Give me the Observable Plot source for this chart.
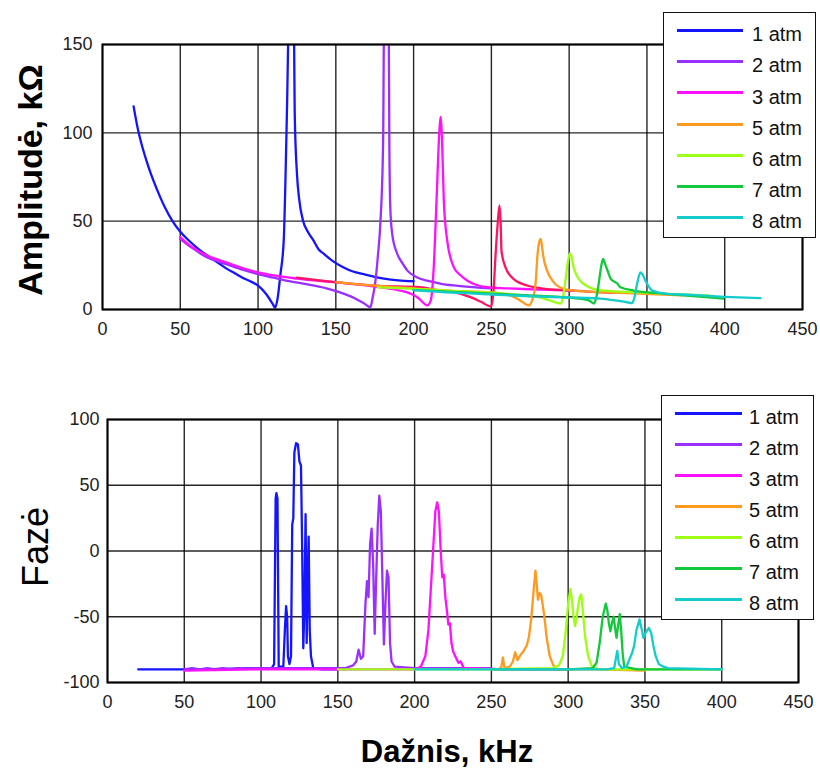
<!DOCTYPE html>
<html><head><meta charset="utf-8">
<script src="https://cdn.jsdelivr.net/npm/d3@7"></script>
<script src="https://cdn.jsdelivr.net/npm/@observablehq/plot@0.6"></script>
<style>
body{margin:0;background:#fff;font-family:"Liberation Sans",Arial,sans-serif;}
#wrap{position:relative;width:820px;height:772px;overflow:hidden;background:#fff;}
.p{position:absolute;left:0;}
.lab{position:absolute;white-space:nowrap;text-align:center;color:#000;font-family:"Liberation Sans",Arial,sans-serif;}
.leg{position:absolute;border:1.5px solid #111;background:#fff;box-sizing:border-box;z-index:5;}
.leg .ln{position:absolute;height:3px;}
.leg .tx{position:absolute;font-size:20px;line-height:20px;color:#111;white-space:nowrap;}
</style></head><body><div id="wrap"></div>
<script>
const xTicks = [0, 50, 100, 150, 200, 250, 300, 350, 400, 450];
const ampTicks = [0, 50, 100, 150];
const phaseTicks = [-100, -50, 0, 50, 100];

const seriesNames = ["1 atm", "2 atm", "3 atm", "4 atm", "5 atm", "6 atm", "7 atm", "8 atm"];
const seriesColors = ["#1414ff", "#9a30ff", "#ff10ff", "#ff1464", "#ff9a20", "#9cff14", "#14c83c", "#14cccc"];
const legendNames = ["1 atm", "2 atm", "3 atm", "5 atm", "6 atm", "7 atm", "8 atm"];

// Amplitude, kOhm  [frequency kHz, amplitude]
const amp1 = [[20,115],[21,110],[23,101],[25,94],[28,85],[31,77],[35,68],[40,58],[45,50],[50,44],[55,39.5],[60,35.5],[65,32],[70,29],[75,26],[80,23],[85,20.5],[90,18],[95,16],[100,13.5],[104,10],[107,6.5],[109.5,3],[111,1],[112.5,6],[114.4,20],[116.5,39],[117.6,73],[118.7,118],[119.7,160],[123,160],[123.6,110],[125,77],[126.5,62],[129,50],[132,44],[135.7,39],[139,34],[142,31.7],[147.6,27.7],[155,23.8],[161,21.5],[168,20],[175,18.5],[181,17.5],[190,16.5],[200,16]];
const amp2 = [[50,40],[55,36.5],[60,33.5],[65,30.5],[70,28.5],[75,27],[80,25.5],[90,22.5],[100,20],[110,18],[120,16],[130,14.5],[144,12],[155,9],[163,6],[168,3.5],[172.3,1.3],[173.5,6],[175.5,16.4],[177,30],[178.7,50],[180.4,95],[181,160],[184,160],[184.4,95],[185,58],[186.2,43],[189.4,31.7],[193,26],[196,22],[202,18.3],[210,16],[217,14.7],[226,13.6],[240,12.5],[249,12]];
const amp3 = [[50,41],[55,37],[60,34],[65,31.5],[70,29.5],[75,28],[80,26.5],[90,23.5],[100,21],[110,19.3],[125,17.5],[150,15.3],[175,13],[190,11],[198,9],[203,6.5],[206,4],[208.7,2.3],[211,5],[213,25],[214.7,61],[216.5,100],[217.3,109],[218.3,95],[219.4,62],[221.6,39],[225.8,24],[230,19.5],[234.4,16.4],[240,14],[247.3,12.6],[260,12],[280,11.3],[300,10.7],[305,10.5]];
const amp4 = [[125,18],[150,15.5],[175,13.5],[204,12.6],[215,11],[225.8,9.8],[236.6,7],[243,4.5],[249.8,1.7],[251.5,12],[252.6,29.6],[254,48],[255.2,58.9],[256,48],[256.5,33],[259,24],[264,17.5],[273,13.6],[282,12],[300,10.8],[315,10],[330,9.5]];
const amp5 = [[150,15.5],[175,13.5],[200,12],[225,10.5],[247,9.8],[262,8],[268.7,5],[274,2.3],[276.5,6],[278.4,14.7],[279.7,31.5],[281,39],[281.6,40],[282.5,36],[283.3,30.5],[285.8,22],[290,15.5],[296.4,11.7],[305,10.5],[320,9.8],[340,9.2],[373,8]];
const amp6 = [[177,12.5],[200,11.7],[225,10.5],[250,9.5],[270,8],[280,7],[288,5],[294.4,3.4],[296,7],[297.6,16.4],[299,26],[300.4,31.7],[301.5,30],[302.8,24],[307,16.4],[315.6,11.7],[325,10.5],[340,9.8],[360,9],[390,8]];
const amp7 = [[200,11],[225,10],[250,9],[275,8],[295,7],[308,6],[313,5],[315.8,3.4],[317.5,7],[319,14.7],[320.5,24],[321.8,28.7],[323,26],[325.5,20],[326.6,17.5],[330.9,14.7],[333,12.6],[341.5,10.7],[360,9],[373.5,8],[399,6.2]];
const amp8 = [[200,11],[225,9.5],[250,8.5],[275,7.5],[300,6.8],[320,6.2],[330.9,5],[337.3,4.1],[340.5,3.6],[342,7],[343.7,14.7],[345.8,21],[347,20],[349,16.4],[353.4,10.7],[363,8.9],[373.5,8.5],[400,7.2],[423,6.4]];

// Phase, degrees  [frequency kHz, phase]
const phase1 = [[20,-90],[60,-90],[100,-89],[107,-89],[108.5,-86],[109.5,40],[110,44],[110.7,40],[111.5,-88],[114.5,-88],[115.5,-60],[116.3,-42],[117,-50],[117.5,-80],[118.5,-86],[119.5,-80],[120.3,20],[121,25],[121.7,75],[122.8,82],[124,81],[125,68],[126,65],[126.8,0],[127.5,-74],[128.3,-40],[129,28],[129.7,-70],[130.3,-30],[131,11],[131.7,-60],[132.5,-80],[134,-89],[140,-90],[150,-90]];
const phase2 = [[50,-90],[55,-89],[60,-90],[65,-89],[70,-90],[75,-89],[80,-90],[85,-89],[90,-89.5],[100,-89],[130,-89],[155,-89],[160,-87],[162,-84],[163.5,-75],[165,-82],[166.5,-80],[168,-40],[169,-23],[170,-35],[171,5],[172,17],[173,-10],[174,-63],[175,-20],[176,20],[177,42],[178,30],[179,-20],[180,-71],[181,-40],[182,-15],[183,-20],[184,-70],[185,-84],[187,-88],[200,-89],[250,-89]];
const phase3 = [[50,-91],[100,-90],[150,-90],[200,-90],[204,-88],[207,-80],[209,-60],[210,-40],[212,0],[213.5,30],[214.7,37],[215.8,30],[217,0],[218,-20],[219,-18],[220,-35],[221,-45],[222,-56],[223,-55],[224,-70],[225,-76],[226.5,-80],[228.5,-85],[230,-84],[232,-89],[260,-90],[300,-90]];
const phase5 = [[255,-90],[256.5,-88],[257.5,-81],[258.5,-89],[262,-88],[264,-84],[265.5,-77],[267,-83],[269,-79],[271,-76],[273,-72],[274.5,-65],[276,-51],[277.5,-30],[278.7,-15],[279.5,-25],[280.3,-37],[281.3,-32],[282.3,-33],[283.3,-40],[284.5,-50],[286,-66],[288,-80],[290,-86],[292,-90],[320,-90],[350,-91]];
const phase6 = [[150,-90],[200,-90],[250,-90],[290,-89],[294,-87],[296.5,-80],[298.5,-60],[300,-40],[301.5,-29],[302.5,-38],[303.5,-50],[304.5,-57],[305.5,-50],[306.5,-42],[307.5,-35],[308.5,-33],[309.5,-45],[311,-65],[313,-80],[315.5,-88],[320,-90],[400,-90]];
const phase7 = [[250,-90],[300,-90],[316,-89],[318.5,-85],[320.5,-70],[322.5,-50],[324.5,-40],[325.5,-45],[326.5,-55],[327.5,-61],[328.5,-55],[329.6,-50],[330.5,-58],[331.5,-66],[332.5,-57],[333.6,-48],[334.5,-60],[335.5,-78],[336.5,-88],[345,-90],[400,-90]];
const phase8 = [[200,-90],[300,-90],[325,-90],[330,-89],[331,-82],[332,-76],[333,-86],[335,-89],[338,-88],[340,-82],[341.5,-78],[343,-72],[344.5,-60],[346.5,-52],[348,-60],[349,-66],[350.5,-62],[352.5,-58.5],[354,-62],[355.5,-72],[357,-80],[359,-86],[362,-88],[365,-89],[400,-90]];

const ampSeries = [amp1, amp2, amp3, amp4, amp5, amp6, amp7, amp8].map((d, i) => ({data: d, color: seriesColors[i]}));
const phaseSeries = [[phase1,0],[phase2,1],[phase3,2],[phase5,4],[phase6,5],[phase7,6],[phase8,7]].map(([d, i]) => ({data: d, color: seriesColors[i]}));

const wrap = document.getElementById("wrap");

function makePlot(o) {
  return Plot.plot({
    width: 820, height: o.height,
    marginTop: o.mt, marginBottom: o.mb, marginLeft: o.ml, marginRight: o.mr,
    style: {fontSize: "18px", fontFamily: "Liberation Sans, Arial, sans-serif", color: "#222", background: "transparent", overflow: "visible"},
    x: {domain: [0, 450]},
    y: {domain: o.yDomain},
    marks: [
      Plot.gridX(xTicks, {stroke: "#000", strokeOpacity: 0.85, strokeWidth: 1.4}),
      Plot.gridY(o.yTicks, {stroke: "#000", strokeOpacity: 0.85, strokeWidth: 1.4}),
      ...o.series.map(s => Plot.line(s.data, {x: d => d[0], y: d => d[1], stroke: s.color, strokeWidth: 2.3, curve: o.curve, clip: true})),
      Plot.frame({stroke: "#000", strokeWidth: 2}),
      Plot.axisX(xTicks, {tickSize: 0, tickPadding: 13, label: null, tickFormat: d => String(d)}),
      Plot.axisY(o.yTicks, {tickSize: 0, tickPadding: o.padY, label: null, tickFormat: d => String(d)})
    ]
  });
}

const top1 = makePlot({height: 350, mt: 44, mb: 41, ml: 102, mr: 18, yDomain: [0, 150], yTicks: ampTicks, series: ampSeries, padY: 10, curve: "monotone-x"});
top1.classList.add("p"); top1.style.top = "0px";
wrap.appendChild(top1);

const bot = makePlot({height: 345, mt: 39, mb: 43, ml: 107, mr: 22, yDomain: [-100, 100], yTicks: phaseTicks, series: phaseSeries, padY: 8, curve: "linear"});
bot.classList.add("p"); bot.style.top = "380px";
wrap.appendChild(bot);

function legend(left, top, w, h, lineY0, step, lineX0, lineX1, textX) {
  const box = document.createElement("div");
  box.className = "leg";
  Object.assign(box.style, {left: left + "px", top: top + "px", width: w + "px", height: h + "px"});
  legendNames.forEach((name, i) => {
    const color = seriesColors[seriesNames.indexOf(name)];
    const y = lineY0 + i * step;
    const ln = document.createElement("div");
    ln.className = "ln";
    Object.assign(ln.style, {left: lineX0 + "px", width: (lineX1 - lineX0) + "px", top: (y - 1.5) + "px", background: color});
    box.appendChild(ln);
    const tx = document.createElement("div");
    tx.className = "tx";
    tx.textContent = name;
    Object.assign(tx.style, {left: textX + "px", top: (y + 3.5 - 9.8) + "px"});
    box.appendChild(tx);
  });
  wrap.appendChild(box);
}
legend(663, 12, 153, 226, 17.5, 31.2, 13, 79, 88);
legend(661, 395, 153, 225, 17, 31.1, 13, 80, 87);

function label(text, cx, cy, size, weight, rot) {
  const d = document.createElement("div");
  d.className = "lab";
  d.textContent = text;
  const w = 400;
  Object.assign(d.style, {
    left: (cx - w / 2) + "px", top: (cy - size / 2) + "px", width: w + "px",
    height: size + "px", lineHeight: size + "px", fontSize: size + "px", fontWeight: weight,
    transform: rot ? "rotate(-90deg)" : "none", zIndex: 6
  });
  wrap.appendChild(d);
}
label("Amplitudė, kΩ", 30, 180, 34, "bold", true);
label("Fazė", 36, 547, 36, "normal", true);
label("Dažnis, kHz", 447, 751, 31, "bold", false);
</script>
</body></html>
